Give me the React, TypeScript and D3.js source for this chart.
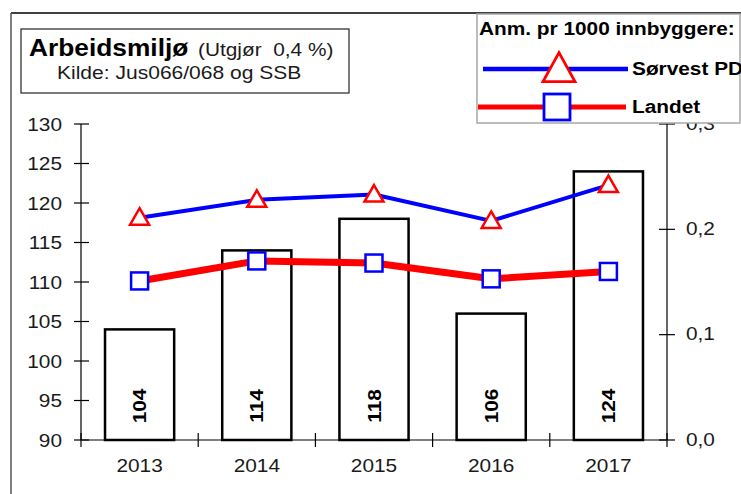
import React from "react";
import * as d3 from "d3";

const years = ["2013", "2014", "2015", "2016", "2017"];
const barValues = [104, 114, 118, 106, 124];
const sorvest = [0.211, 0.228, 0.233, 0.208, 0.242];
const landet = [0.151, 0.17, 0.168, 0.153, 0.16];
const leftTicks = [90, 95, 100, 105, 110, 115, 120, 125, 130];
const rightTicks = [0, 0.1, 0.2, 0.3];

const W = 741;
const H = 494;
const SX = 1.12;
const FONT = "'Liberation Sans', Arial, sans-serif";

function T(props: any) {
  const { x, y, size = 18.6, bold = false, anchor = "start", rot = 0, fill = "#1a1a1a", baseline, children, pre } = props;
  return (
    <text
      transform={`translate(${x},${y}) rotate(${rot}) scale(${SX},1)`}
      fontFamily={FONT}
      fontSize={size}
      fontWeight={bold ? "bold" : "normal"}
      textAnchor={anchor}
      dominantBaseline={baseline}
      fill={fill}
      style={pre ? { whiteSpace: "pre" } : undefined}
    >
      {children}
    </text>
  );
}

function triPath(cx: number, cy: number, w: number, h: number) {
  const top = cy - (2 * h) / 3;
  const bot = cy + h / 3;
  return `M${cx},${top}L${cx + w / 2},${bot}L${cx - w / 2},${bot}Z`;
}

export default function App() {
  const x = d3.scaleBand<string>().domain(years).range([81, 667]).padding(0);
  const yL = d3.scaleLinear().domain([90, 130]).range([440, 124]);
  const yR = d3.scaleLinear().domain([0, 0.3]).range([440, 124]);
  const bw = x.bandwidth() * 0.59;
  const cx = (d: string) => (x(d) as number) + x.bandwidth() / 2;

  const lineS = d3.line<number>().x((_, i) => cx(years[i])).y((d) => yR(d));
  const fmt = (v: number) => v.toFixed(1).replace(".", ",");

  const bandEdges = years.map((d) => x(d) as number).concat([667]);

  return (
    <svg width={W} height={H} style={{ position: "absolute", left: 0, top: 0, background: "#fff" }}>
      <rect x={0} y={0} width={W} height={H} fill="#fff" />
      {/* outer frame */}
      <line x1={11} y1={13} x2={W} y2={13} stroke="#000" strokeWidth={1.5} />
      <line x1={11} y1={13} x2={11} y2={H} stroke="#555" strokeWidth={1.5} />

      {/* title box */}
      <rect x={21} y={29} width={328} height={64} fill="#fff" stroke="#333" strokeWidth={1.3} />
      <T x={29} y={56} size={23.5} bold fill="#000">Arbeidsmiljø</T>
      <T x={198} y={56} size={18.6} pre>{"(Utgjør  0,4 %)"}</T>
      <T x={57} y={79} size={18.8}>Kilde: Jus066/068 og SSB</T>

      {/* bars */}
      {years.map((d, i) => (
        <g key={d}>
          <rect
            x={cx(d) - bw / 2}
            y={yL(barValues[i])}
            width={bw}
            height={yL(90) - yL(barValues[i])}
            fill="#fff"
            stroke="#000"
            strokeWidth={2.5}
          />
          <T x={cx(d)} y={406} rot={-90} bold anchor="middle" baseline="central" size={18.6} fill="#000">
            {barValues[i]}
          </T>
        </g>
      ))}

      {/* axes */}
      <line x1={81} y1={124} x2={81} y2={440} stroke="#000" strokeWidth={1.2} />
      <line x1={667} y1={124} x2={667} y2={440} stroke="#000" strokeWidth={1.2} />
      <line x1={81} y1={440} x2={667} y2={440} stroke="#000" strokeWidth={1.2} />
      {leftTicks.map((t) => (
        <g key={t}>
          <line x1={74} x2={89} y1={yL(t)} y2={yL(t)} stroke="#000" strokeWidth={1.2} />
          <T x={62} y={yL(t)} anchor="end" baseline="central">{t}</T>
        </g>
      ))}
      {rightTicks.map((t) => (
        <g key={t}>
          <line x1={659} x2={675} y1={yR(t)} y2={yR(t)} stroke="#000" strokeWidth={1.2} />
          <T x={686} y={yR(t) - 1} baseline="central">{fmt(t)}</T>
        </g>
      ))}
      {bandEdges.map((e, i) => (
        <line key={i} x1={e} x2={e} y1={433} y2={447} stroke="#000" strokeWidth={1.2} />
      ))}
      {years.map((d) => (
        <T key={d} x={cx(d)} y={472} anchor="middle">{d}</T>
      ))}

      {/* lines */}
      <path d={lineS(landet) || ""} fill="none" stroke="#ff0000" strokeWidth={7} strokeLinejoin="round" />
      <path d={lineS(sorvest) || ""} fill="none" stroke="#0000ff" strokeWidth={4} strokeLinejoin="round" />
      {landet.map((v, i) => (
        <rect key={i} x={cx(years[i]) - 8.5} y={yR(v) - 8.5} width={17} height={17} fill="#fff" stroke="#0000ff" strokeWidth={2.5} />
      ))}
      {sorvest.map((v, i) => (
        <path key={i} d={triPath(cx(years[i]), yR(v) + 1.5, 19, 16.5)} fill="#fff" stroke="#ff0000" strokeWidth={2.5} />
      ))}

      {/* legend */}
      <rect x={477} y={14} width={263} height={109} fill="#fff" stroke="#a8a8a8" strokeWidth={1.5} />
      <T x={479} y={35} bold size={18.6} fill="#000">Anm. pr 1000 innbyggere:</T>
      <line x1={483} x2={628} y1={69} y2={69} stroke="#0000ff" strokeWidth={4.5} />
      <path d={triPath(559, 72, 32, 29)} fill="#fff" stroke="#ff0000" strokeWidth={2.8} />
      <T x={632} y={75} bold size={18.6} fill="#000">Sørvest PD</T>
      <line x1={478} x2={626} y1={107} y2={107} stroke="#ff0000" strokeWidth={5} />
      <rect x={544} y={94} width={26} height={26} fill="#fff" stroke="#0000ff" strokeWidth={2.8} />
      <T x={632} y={113} bold size={18.6} fill="#000">Landet</T>
    </svg>
  );
}
